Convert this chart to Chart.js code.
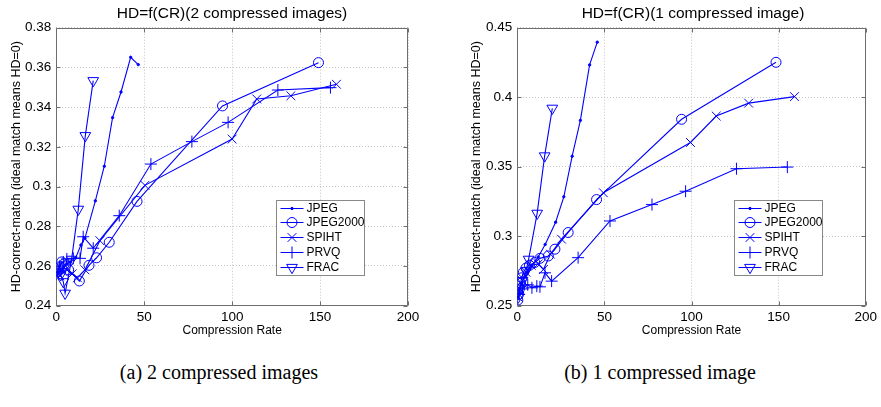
<!DOCTYPE html>
<html>
<head>
<meta charset="utf-8">
<script src="https://cdn.jsdelivr.net/npm/chart.js@4/dist/chart.umd.min.js"></script>
<style>
  body { margin: 0; width: 881px; height: 407px; background: #fff; position: relative; overflow: hidden; }
  canvas { position: absolute; top: 0; }
  .title { position: absolute; font: 15.5px "Liberation Sans", Arial, sans-serif; color: #000; transform: translate(-50%, -50%); white-space: nowrap; }
  .caption { position: absolute; font: 20px "Liberation Serif", "DejaVu Serif", serif; color: #000; transform: translate(-50%, -50%); white-space: nowrap; }
</style>
</head>
<body>
<canvas id="chartA" width="440" height="345" style="left:0"></canvas>
<canvas id="chartB" width="441" height="345" style="left:440px"></canvas>
<div class="title" style="left:232px; top:13px">HD=f(CR)(2 compressed images)</div>
<div class="title" style="left:693px; top:13px">HD=f(CR)(1 compressed image)</div>
<div class="caption" style="left:219px; top:372px">(a) 2 compressed images</div>
<div class="caption" style="left:660px; top:372px">(b) 1 compressed image</div>
<script>
// ---- data ----
const seriesNames = ['JPEG', 'JPEG2000', 'SPIHT', 'PRVQ', 'FRAC'];
const xTicks = [0, 50, 100, 150, 200];
const yTicksA = [0.24, 0.26, 0.28, 0.30, 0.32, 0.34, 0.36, 0.38];
const yTicksB = [0.25, 0.30, 0.35, 0.40, 0.45];

// (a) 2 compressed images
const jpegCR_a = [1.5, 2.5, 4, 6, 8, 11, 14, 16.3, 22.2, 27.3, 32.0, 36.8, 42.3, 46.6];
const jpegHD_a = [0.257, 0.258, 0.259, 0.261, 0.262, 0.264, 0.2705, 0.274, 0.2928, 0.3102, 0.3347, 0.3476, 0.3651, 0.3614];
const j2kCR_a = [0.5, 1.5, 3, 4.5, 7, 13.1, 18.6, 22.9, 30.1, 45.9, 94.5, 149.1];
const j2kHD_a = [0.257, 0.259, 0.262, 0.261, 0.258, 0.2524, 0.2603, 0.2641, 0.2719, 0.2925, 0.3406, 0.3624];
const spihtCR_a = [1, 2, 4, 6, 9, 12, 16.3, 24.8, 50.4, 100, 114, 133.4, 159.3];
const spihtHD_a = [0.256, 0.255, 0.257, 0.258, 0.256, 0.254, 0.258, 0.2727, 0.3006, 0.3239, 0.3441, 0.3457, 0.3515];
const prvqCR_a = [1, 2, 4, 6, 9.7, 13.5, 15.3, 21.0, 35.8, 53.8, 77.1, 97.7, 126, 155.9];
const prvqHD_a = [0.258, 0.260, 0.262, 0.2635, 0.2638, 0.2638, 0.2747, 0.2689, 0.2853, 0.3113, 0.3226, 0.3323, 0.3486, 0.3498];
const fracCR_a = [1, 2.5, 4, 5.0, 8.7, 12.5, 16.5, 21.0];
const fracHD_a = [0.257, 0.2555, 0.252, 0.2462, 0.2633, 0.2885, 0.3256, 0.3533];

// (b) 1 compressed image
const jpegCR_b = [0.5, 1, 1.5, 2.5, 4, 6, 8.4, 12, 16, 22, 26.7, 31.5, 36.2, 41.5, 45.9];
const jpegHD_b = [0.256, 0.259, 0.262, 0.266, 0.270, 0.274, 0.2785, 0.285, 0.294, 0.310, 0.3283, 0.3575, 0.3833, 0.4232, 0.4396];
const j2kCR_b = [0.3, 0.7, 1.2, 1.8, 2.5, 3.5, 5, 7, 10, 13, 17.8, 21.6, 29.2, 45.5, 94.3, 148.5];
const j2kHD_b = [0.254, 0.258, 0.262, 0.266, 0.270, 0.274, 0.277, 0.279, 0.281, 0.284, 0.2857, 0.2906, 0.3026, 0.3263, 0.3841, 0.4251];
const spihtCR_b = [0.5, 1.5, 3, 5, 8, 12, 15, 19, 25.4, 49.4, 99.4, 114.2, 132.8, 159.1];
const spihtHD_b = [0.256, 0.262, 0.268, 0.274, 0.279, 0.280, 0.276, 0.287, 0.2978, 0.3312, 0.3674, 0.3864, 0.3957, 0.4004];
const prvqCR_b = [1, 3, 6, 8.4, 11.2, 13, 15.9, 19.7, 34.9, 53.2, 77.3, 96.6, 125.8, 155];
const prvqHD_b = [0.258, 0.262, 0.265, 0.2628, 0.264, 0.2635, 0.2736, 0.2676, 0.2845, 0.3109, 0.3227, 0.3323, 0.3485, 0.3497];
const fracCR_b = [0.5, 1.5, 3, 5, 6.5, 11.4, 15.7, 20.1];
const fracHD_b = [0.256, 0.262, 0.268, 0.275, 0.2833, 0.3164, 0.3577, 0.392];

// ---- styles ----
const BLUE = '#0000ff';
const markerStyles = [
  { pointStyle: 'circle', radius: 1.2, fill: BLUE, rotation: 0 },
  { pointStyle: 'circle', radius: 5, fill: 'rgba(0,0,0,0)', rotation: 0 },
  { pointStyle: 'crossRot', radius: 6.2, fill: 'rgba(0,0,0,0)', rotation: 0 },
  { pointStyle: 'cross', radius: 6, fill: 'rgba(0,0,0,0)', rotation: 0 },
  { pointStyle: 'triangle', radius: 6.2, fill: 'rgba(0,0,0,0)', rotation: 180 }
];
const FONT = '"Liberation Sans", Arial, sans-serif';

function zipXY(xs, ys) {
  return xs.map((x, i) => ({ x: x, y: ys[i] }));
}

function buildDatasets(pairs) {
  return pairs.map((p, i) => ({
    label: seriesNames[i],
    data: zipXY(p[0], p[1]),
    showLine: true,
    borderColor: BLUE,
    borderWidth: 1.1,
    pointStyle: markerStyles[i].pointStyle,
    pointRadius: markerStyles[i].radius,
    pointRotation: markerStyles[i].rotation,
    pointBorderColor: BLUE,
    pointBackgroundColor: markerStyles[i].fill,
    pointBorderWidth: 1,
    pointHoverRadius: markerStyles[i].radius
  }));
}

// frame box with inward tick marks, drawn under the data
const framePlugin = {
  id: 'frame',
  beforeDatasetsDraw(chart) {
    const { ctx, chartArea: a, scales: { x, y } } = chart;
    const L = Math.round(a.left) + 0.5, R = Math.round(a.right) - 0.5;
    const T = Math.round(a.top) + 0.5, B = Math.round(a.bottom) - 0.5;
    ctx.save();
    ctx.strokeStyle = '#6e6e6e';
    ctx.lineWidth = 1;
    ctx.beginPath();
    ctx.rect(L, T, R - L, B - T);
    x.ticks.forEach(t => {
      const px = Math.round(x.getPixelForValue(t.value)) + 0.5;
      ctx.moveTo(px, B); ctx.lineTo(px, B - 4);
      ctx.moveTo(px, T); ctx.lineTo(px, T + 4);
    });
    y.ticks.forEach(t => {
      const py = Math.round(y.getPixelForValue(t.value)) + 0.5;
      ctx.moveTo(L, py); ctx.lineTo(L + 4, py);
      ctx.moveTo(R, py); ctx.lineTo(R - 4, py);
    });
    ctx.stroke();
    ctx.restore();
  }
};

// MATLAB style legend box in the lower right of the plot
const boxLegendPlugin = {
  id: 'boxLegend',
  afterDraw(chart) {
    const { ctx, chartArea: a } = chart;
    const w = 88, h = 75;
    const bx = Math.round(a.right - 44 - w) + 0.5;
    const by = Math.round(a.bottom - 31 - h) + 0.5;
    ctx.save();
    ctx.fillStyle = '#fff';
    ctx.strokeStyle = '#888';
    ctx.lineWidth = 1;
    ctx.fillRect(bx, by, w, h);
    ctx.strokeRect(bx, by, w, h);
    ctx.font = '12px ' + FONT;
    ctx.textBaseline = 'middle';
    seriesNames.forEach((name, i) => {
      const yy = Math.round(by + 7 + i * 14.8);
      ctx.strokeStyle = BLUE;
      ctx.beginPath();
      ctx.moveTo(bx + 4, yy + 0.5);
      ctx.lineTo(bx + 27, yy + 0.5);
      ctx.stroke();
      const m = markerStyles[i];
      ctx.fillStyle = m.fill;
      Chart.helpers.drawPoint(ctx, { pointStyle: m.pointStyle, radius: m.radius, rotation: m.rotation, borderWidth: 1 }, bx + 15.5, yy + 0.5);
      ctx.fillStyle = '#000';
      ctx.fillText(name, bx + 30, yy + 1);
    });
    ctx.restore();
  }
};

function makeChart(canvasId, pairs, yTicks, yAxisWidth, padRight, yTitlePad) {
  const yMin = yTicks[0], yMax = yTicks[yTicks.length - 1];
  return new Chart(document.getElementById(canvasId), {
    type: 'scatter',
    data: { datasets: buildDatasets(pairs) },
    options: {
      responsive: false,
      animation: false,
      layout: { padding: { top: 27.7, right: padRight, left: 0, bottom: 0 } },
      plugins: { legend: { display: false }, tooltip: { enabled: false } },
      scales: {
        x: {
          type: 'linear',
          min: xTicks[0],
          max: xTicks[xTicks.length - 1],
          afterBuildTicks: s => { s.ticks = xTicks.map(v => ({ value: v })); },
          afterFit: s => { s.height = 345 - 305.6; },
          ticks: { color: '#000', font: { family: FONT, size: 13.5 }, padding: 4, maxRotation: 0,
                   callback: v => String(v) },
          grid: { color: '#c4c4c4', drawTicks: false },
          border: { display: false, dash: [1, 2] },
          title: { display: true, text: 'Compression Rate', color: '#000',
                   font: { family: FONT, size: 12 }, padding: { top: 0, bottom: 7 } }
        },
        y: {
          min: yMin,
          max: yMax,
          afterBuildTicks: s => { s.ticks = yTicks.map(v => ({ value: v })); },
          afterFit: s => { s.width = yAxisWidth; },
          ticks: { color: '#000', font: { family: FONT, size: 13.5 }, padding: 5,
                   callback: v => String(+v.toFixed(2)) },
          grid: { color: '#c4c4c4', drawTicks: false },
          border: { display: false, dash: [1, 2] },
          title: { display: true, text: 'HD-correct-match (ideal match means HD=0)', color: '#000',
                   font: { family: FONT, size: 12.5 }, padding: { top: yTitlePad, bottom: 0 } }
        }
      }
    },
    plugins: [framePlugin, boxLegendPlugin]
  });
}

makeChart('chartA', [
  [jpegCR_a, jpegHD_a], [j2kCR_a, j2kHD_a], [spihtCR_a, spihtHD_a], [prvqCR_a, prvqHD_a], [fracCR_a, fracHD_a]
], yTicksA, 56.3, 32, 9.5);

makeChart('chartB', [
  [jpegCR_b, jpegHD_b], [j2kCR_b, j2kHD_b], [spihtCR_b, spihtHD_b], [prvqCR_b, prvqHD_b], [fracCR_b, fracHD_b]
], yTicksB, 77.3, 12, 29.5);
</script>
</body>
</html>
